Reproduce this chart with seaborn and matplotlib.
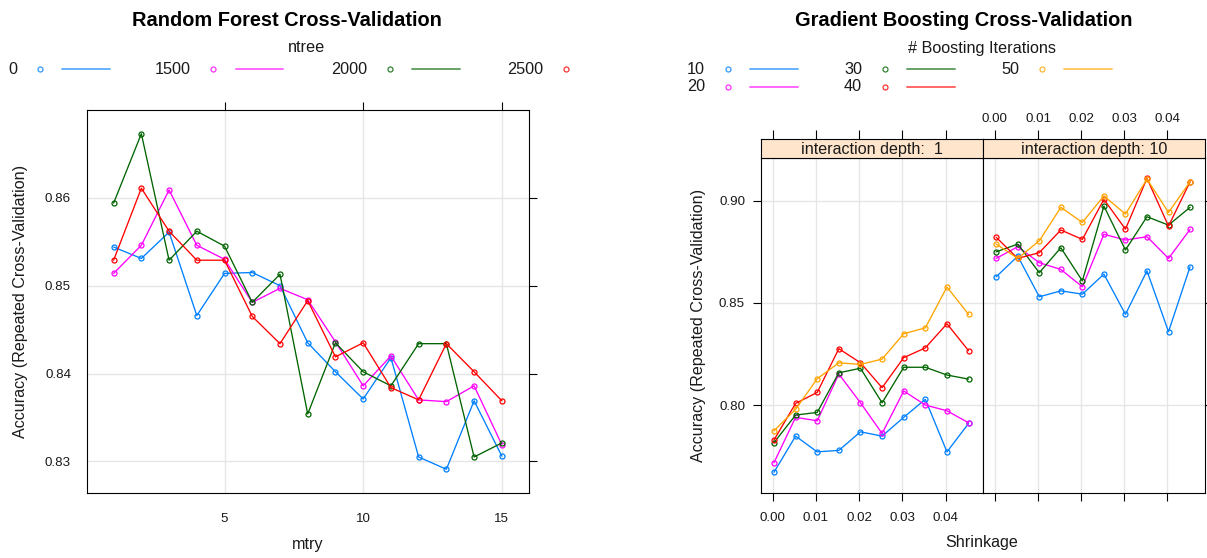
import numpy as np
import pandas as pd
import matplotlib
matplotlib.use("Agg")
import matplotlib.pyplot as plt
from matplotlib.lines import Line2D
from matplotlib.ticker import FormatStrFormatter
import seaborn as sns

# ---------------- Random forest tuning results ----------------
mtry = list(range(1, 16))
ntree_labels = ["0", "1500", "2000", "2500"]
rf_acc_0 = [0.8544, 0.8531, 0.8561, 0.8466, 0.8514, 0.8515, 0.8500, 0.8435,
            0.8402, 0.8371, 0.8418, 0.8305, 0.8291, 0.8369, 0.8306]
rf_acc_1500 = [0.8514, 0.8546, 0.8609, 0.8546, 0.8530, 0.8481, 0.8497, 0.8484,
               0.8436, 0.8386, 0.8420, 0.8370, 0.8368, 0.8386, 0.8319]
rf_acc_2000 = [0.8594, 0.8673, 0.8529, 0.8562, 0.8545, 0.8481, 0.8513, 0.8354,
               0.8435, 0.8402, 0.8386, 0.8434, 0.8434, 0.8305, 0.8321]
rf_acc_2500 = [0.8529, 0.8611, 0.8562, 0.8529, 0.8529, 0.8465, 0.8434, 0.8483,
               0.8419, 0.8435, 0.8384, 0.8370, 0.8434, 0.8402, 0.8369]

# ---------------- Gradient boosting tuning results ----------------
shrinkage = [0.0003, 0.0053, 0.0103, 0.0153, 0.0203, 0.0253, 0.0303, 0.0353, 0.0403, 0.0453]
iter_labels = ["10", "20", "30", "40", "50"]
depth_labels = ["interaction depth:  1", "interaction depth: 10"]
d1_10 = [0.7671, 0.7848, 0.7771, 0.7778, 0.7869, 0.7848, 0.7940, 0.8028, 0.7771, 0.7910]
d1_20 = [0.7718, 0.7940, 0.7923, 0.8152, 0.8011, 0.7861, 0.8069, 0.8000, 0.7972, 0.7913]
d1_30 = [0.7816, 0.7951, 0.7964, 0.8158, 0.8180, 0.8011, 0.8185, 0.8185, 0.8147, 0.8127]
d1_40 = [0.7829, 0.8008, 0.8062, 0.8276, 0.8207, 0.8085, 0.8232, 0.8280, 0.8398, 0.8266]
d1_50 = [0.7874, 0.7979, 0.8129, 0.8207, 0.8199, 0.8225, 0.8349, 0.8378, 0.8578, 0.8444]
d10_10 = [0.8628, 0.8729, 0.8530, 0.8559, 0.8543, 0.8641, 0.8444, 0.8657, 0.8359, 0.8677]
d10_20 = [0.8718, 0.8775, 0.8697, 0.8664, 0.8579, 0.8836, 0.8808, 0.8824, 0.8718, 0.8860]
d10_30 = [0.8750, 0.8788, 0.8648, 0.8770, 0.8608, 0.8974, 0.8759, 0.8922, 0.8881, 0.8968]
d10_40 = [0.8821, 0.8718, 0.8746, 0.8857, 0.8811, 0.9007, 0.8861, 0.9110, 0.8876, 0.9093]
d10_50 = [0.8788, 0.8718, 0.8804, 0.8968, 0.8894, 0.9024, 0.8935, 0.9106, 0.8943, 0.9093]

# lattice "superpose" colours
series_colors = ["#0080ff", "#ff00ff", "#006400", "#ff0000", "#ffa500"]

sns.set_style("white")
plt.rcParams["font.family"] = ["Liberation Sans", "DejaVu Sans"]
plt.rcParams["text.color"] = "#1a1a1a"
plt.rcParams["axes.labelcolor"] = "#1a1a1a"
plt.rcParams["xtick.color"] = "black"
plt.rcParams["ytick.color"] = "black"
plt.rcParams["xtick.labelcolor"] = "#1a1a1a"
plt.rcParams["ytick.labelcolor"] = "#1a1a1a"

W, H = 1207, 558
fig = plt.figure(figsize=(W / 100, H / 100), dpi=100)
fig.patch.set_facecolor("white")


def px_axes(x0, y0, x1, y1):
    return fig.add_axes([x0 / W, 1 - y1 / H, (x1 - x0) / W, (y1 - y0) / H])


def style_lines(ax):
    for ln in ax.lines:
        ln.set_markerfacecolor("none")
        ln.set_markeredgecolor(ln.get_color())
        ln.set_markeredgewidth(0.9)


def style_frame(ax):
    for sp in ax.spines.values():
        sp.set_color("black")
        sp.set_linewidth(0.8)
    ax.grid(True, color="#e6e6e6", linewidth=1.0)
    ax.set_axisbelow(True)


TICK_FS = 9.6
LABEL_FS = 11.6
LEG_FS = 11.7
TITLE_FS = 14.4

# ---------------- Left chart: random forest ----------------
rf = pd.DataFrame({
    "mtry": mtry * 4,
    "Accuracy": rf_acc_0 + rf_acc_1500 + rf_acc_2000 + rf_acc_2500,
    "ntree": np.repeat(ntree_labels, len(mtry)),
})
axL = px_axes(87, 110, 529, 493)
sns.lineplot(data=rf, x="mtry", y="Accuracy", hue="ntree", hue_order=ntree_labels,
             palette=series_colors[:4], marker="o", markersize=3.6, linewidth=0.95,
             estimator=None, sort=False, legend=False, ax=axL)
style_lines(axL)
style_frame(axL)
axL.set_xlim(0.04, 15.98)
axL.set_ylim(0.8264, 0.8700)
axL.set_xticks([5, 10, 15])
axL.set_yticks([0.83, 0.84, 0.85, 0.86])
axL.yaxis.set_major_formatter(FormatStrFormatter("%.2f"))
axL.tick_params(direction="out", length=5.5, width=0.8, top=True, right=True,
                labeltop=False, labelright=False, labelsize=TICK_FS, pad=6)
axL.tick_params(axis="x", pad=9)
axL.set_xlabel("mtry", fontsize=LABEL_FS, va="center")
axL.xaxis.set_label_coords(0.5, -(545 - 493) / (493 - 110))
axL.set_ylabel("Accuracy (Repeated Cross-Validation)", fontsize=LABEL_FS, va="center")
axL.yaxis.set_label_coords(-(87 - 21) / (529 - 87), 0.5)

# ---------------- Right chart: gradient boosting ----------------
gb = pd.DataFrame({
    "Shrinkage": shrinkage * 10,
    "Accuracy": d1_10 + d1_20 + d1_30 + d1_40 + d1_50
                + d10_10 + d10_20 + d10_30 + d10_40 + d10_50,
    "Iterations": np.tile(np.repeat(iter_labels, len(shrinkage)), 2),
    "Depth": np.repeat(depth_labels, len(shrinkage) * 5),
})

panel_x = [(761, 983.3), (983.3, 1204.7)]
top_y, strip_top, bottom_y = 158.3, 139.3, 493.3
xlim = (-0.0027, 0.0487)
ylim = (0.7568, 0.9208)
xt = [0.00, 0.01, 0.02, 0.03, 0.04]

for i, (depth, (x0, x1)) in enumerate(zip(depth_labels, panel_x)):
    ax = px_axes(x0, top_y, x1, bottom_y)
    sns.lineplot(data=gb[gb["Depth"] == depth], x="Shrinkage", y="Accuracy",
                 hue="Iterations", hue_order=iter_labels, palette=series_colors,
                 marker="o", markersize=3.6, linewidth=0.95, estimator=None,
                 sort=False, legend=False, ax=ax)
    style_lines(ax)
    style_frame(ax)
    ax.set_xlim(*xlim)
    ax.set_ylim(*ylim)
    ax.set_xticks(xt)
    ax.set_yticks([0.80, 0.85, 0.90])
    ax.xaxis.set_major_formatter(FormatStrFormatter("%.2f"))
    ax.yaxis.set_major_formatter(FormatStrFormatter("%.2f"))
    ax.set_xlabel("")
    ax.set_ylabel("")
    if i == 0:
        ax.tick_params(direction="out", length=5.5, width=0.8, top=False, right=False,
                       left=True, bottom=True, labelleft=True, labelbottom=True,
                       labelsize=TICK_FS, pad=6)
        ax.tick_params(axis="x", pad=8)
        ax.set_ylabel("Accuracy (Repeated Cross-Validation)", fontsize=LABEL_FS,
                      va="center")
        ax.yaxis.set_label_coords(-(761 - 698) / (x1 - x0), 0.5)
    else:
        ax.tick_params(direction="out", length=5.5, width=0.8, top=False, right=True,
                       left=False, bottom=True, labelleft=False, labelbottom=False,
                       labelsize=TICK_FS, pad=6)

    # strip with the panel condition
    st = px_axes(x0, strip_top, x1, top_y)
    st.set_facecolor("#ffe5cc")
    st.set_xlim(*xlim)
    st.set_ylim(0, 1)
    st.set_yticks([])
    st.set_xticks(xt)
    st.xaxis.set_major_formatter(FormatStrFormatter("%.2f"))
    st.tick_params(axis="x", direction="out", length=6.5, width=0.8, top=True,
                   bottom=False, labelbottom=False, labeltop=(i == 1),
                   labelsize=TICK_FS, pad=4)
    for sp in st.spines.values():
        sp.set_color("black")
        sp.set_linewidth(0.8)
    st.text(0.5, 0.45, depth, transform=st.transAxes, ha="center", va="center",
            fontsize=LABEL_FS)

fig.text(982 / W, 1 - 543 / H, "Shrinkage", ha="center", va="center", fontsize=LABEL_FS)

# ---------------- Titles ----------------
fig.text(287 / W, 1 - 20 / H, "Random Forest Cross-Validation", ha="center",
         va="center", fontsize=TITLE_FS, fontweight="bold", color="black")
fig.text(964 / W, 1 - 20 / H, "Gradient Boosting Cross-Validation", ha="center",
         va="center", fontsize=TITLE_FS, fontweight="bold", color="black")


# ---------------- Keys ----------------
def key_entry(text_right, y, label, color, draw_line=True):
    fig.text(text_right / W, 1 - y / H, label, ha="right", va="center", fontsize=LEG_FS)
    mx = text_right + 22.5
    fig.add_artist(Line2D([mx / W], [1 - y / H], transform=fig.transFigure,
                          marker="o", markersize=3.6, markerfacecolor="none",
                          markeredgecolor=color, markeredgewidth=0.9, alpha=0.8,
                          linestyle="none"))
    if draw_line:
        lx0 = mx + 22.5
        fig.add_artist(Line2D([lx0 / W, (lx0 + 47.5) / W], [1 - y / H, 1 - y / H],
                              transform=fig.transFigure, color=color,
                              linewidth=1.4, alpha=0.6))


fig.text(307 / W, 1 - 48 / H, "ntree", ha="center", va="center", fontsize=LEG_FS)
rf_key_x = [17.2, 190.6, 367, 543.7]
for j, lab in enumerate(ntree_labels):
    key_entry(rf_key_x[j], 69, lab, series_colors[j], draw_line=(j < 3))

fig.text(982.5 / W, 1 - 48.3 / H, "# Boosting Iterations", ha="center", va="center",
         fontsize=LEG_FS)
gb_key_pos = [(705, 69.3), (705, 86.7), (862, 69.3), (862, 86.7), (1019.3, 69.3)]
for j, lab in enumerate(iter_labels):
    xr, yy = gb_key_pos[j]
    key_entry(xr, yy, lab, series_colors[j])

fig.savefig("out.png", dpi=100, facecolor="white")
